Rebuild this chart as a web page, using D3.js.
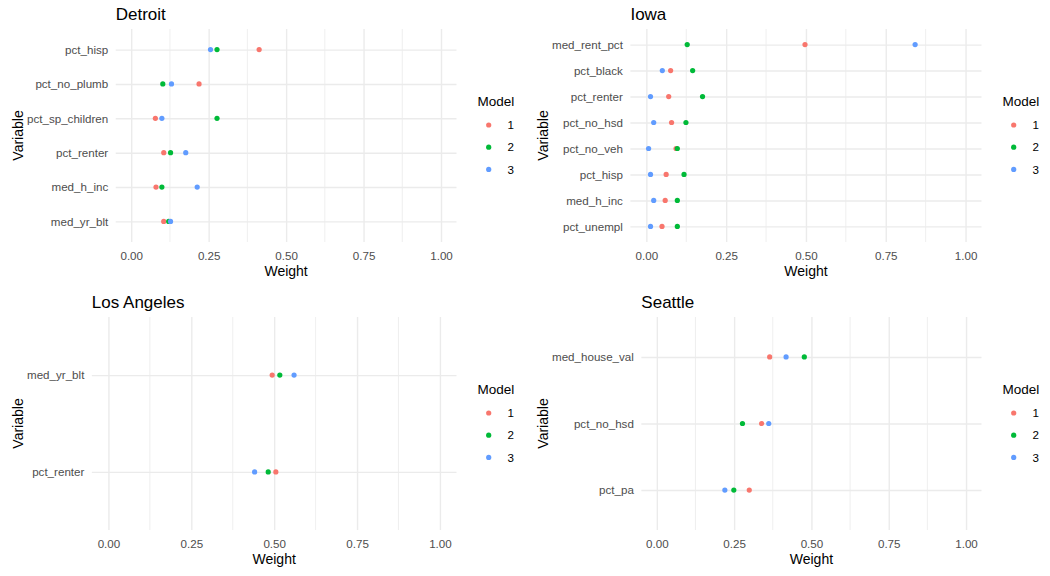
<!DOCTYPE html>
<html>
<head>
<meta charset="utf-8">
<script src="https://cdn.jsdelivr.net/npm/d3@7"></script>
<style>
  html, body { margin: 0; padding: 0; background: #fff; }
  svg { display: block; font-family: "Liberation Sans", Arial, sans-serif; }
</style>
</head>
<body>
<svg id="chart" width="1050" height="576"></svg>
<script>
// ---------- data ----------
const models = ["1", "2", "3"];
const modelColors = ["#F8766D", "#00BA38", "#619CFF"];
const xTicks = [0, 0.25, 0.5, 0.75, 1];
const xMinorTicks = [0.125, 0.375, 0.625, 0.875];

// categories listed top to bottom
const detroitVars = ["pct_hisp", "pct_no_plumb", "pct_sp_children", "pct_renter", "med_h_inc", "med_yr_blt"];
const detroitM1 = [0.413, 0.219, 0.078, 0.105, 0.080, 0.105];
const detroitM2 = [0.277, 0.102, 0.277, 0.127, 0.099, 0.121];
const detroitM3 = [0.256, 0.130, 0.099, 0.176, 0.213, 0.127];

const iowaVars = ["med_rent_pct", "pct_black", "pct_renter", "pct_no_hsd", "pct_no_veh", "pct_hisp", "med_h_inc", "pct_unempl"];
const iowaM1 = [0.497, 0.076, 0.070, 0.079, 0.093, 0.062, 0.059, 0.049];
const iowaM2 = [0.128, 0.145, 0.176, 0.124, 0.097, 0.118, 0.097, 0.097];
const iowaM3 = [0.842, 0.050, 0.013, 0.023, 0.007, 0.013, 0.023, 0.013];

const laVars = ["med_yr_blt", "pct_renter"];
const laM1 = [0.494, 0.505];
const laM2 = [0.517, 0.482];
const laM3 = [0.560, 0.441];

const seattleVars = ["med_house_val", "pct_no_hsd", "pct_pa"];
const seattleM1 = [0.365, 0.339, 0.299];
const seattleM2 = [0.477, 0.277, 0.249];
const seattleM3 = [0.418, 0.362, 0.220];

const panels = [
  { title: "Detroit",     vars: detroitVars, vals: [detroitM1, detroitM2, detroitM3], col: 0, row: 0 },
  { title: "Iowa",        vars: iowaVars,    vals: [iowaM1, iowaM2, iowaM3],          col: 1, row: 0 },
  { title: "Los Angeles", vars: laVars,      vals: [laM1, laM2, laM3],                col: 0, row: 1 },
  { title: "Seattle",     vars: seattleVars, vals: [seattleM1, seattleM2, seattleM3], col: 1, row: 1 }
];

// ---------- layout ----------
const cellW = 525, cellH = 288;
const plotTop = 29, plotBottom = 242, plotRight = 456.5;
const labelLeft = 27;
const tickFont = 11.6, gridCol = "#EBEBEB", textGrey = "#4D4D4D";
const dotR = 2.6;

const svg = d3.select("#chart");

function measure(texts, size) {
  const t = svg.append("text").style("font-size", size + "px");
  let m = 0;
  texts.forEach(s => { t.text(s); m = Math.max(m, t.node().getComputedTextLength()); });
  t.remove();
  return m;
}

panels.forEach(p => {
  const cx = p.col * cellW, cy = p.row * cellH;
  const g = svg.append("g").attr("transform", `translate(${cx},${cy})`);
  const maxW = measure(p.vars, tickFont);
  const left = labelLeft + maxW + 7.5;
  const W = plotRight - left, H = plotBottom - plotTop;

  const x = d3.scaleLinear().domain([-0.05, 1.05]).range([left, plotRight]);
  const y = d3.scalePoint().domain(p.vars).range([plotTop, plotBottom]).padding(0.6);

  // minor grid
  g.append("g").selectAll("line").data(xMinorTicks).join("line")
    .attr("x1", d => x(d)).attr("x2", d => x(d))
    .attr("y1", plotTop).attr("y2", plotBottom)
    .attr("stroke", gridCol).attr("stroke-width", 0.8);

  // x axis with major grid
  const xa = g.append("g").attr("transform", `translate(0,${plotBottom})`)
    .call(d3.axisBottom(x).tickValues(xTicks).tickFormat(d3.format(".2f"))
      .tickSize(-H).tickPadding(9.6));
  xa.select(".domain").remove();
  xa.selectAll(".tick line").attr("stroke", gridCol).attr("stroke-width", 1.4);
  xa.selectAll(".tick text").attr("fill", textGrey).style("font-size", tickFont + "px")
    .style("font-family", "\"Liberation Sans\", Arial, sans-serif");

  // y axis with major grid
  const ya = g.append("g").attr("transform", `translate(${left},0)`)
    .call(d3.axisLeft(y).tickSize(-W).tickPadding(7.5));
  ya.select(".domain").remove();
  ya.selectAll(".tick line").attr("stroke", gridCol).attr("stroke-width", 1.4);
  ya.selectAll(".tick text").attr("fill", textGrey).style("font-size", tickFont + "px")
    .style("font-family", "\"Liberation Sans\", Arial, sans-serif");

  // points
  p.vals.forEach((arr, mi) => {
    g.append("g").selectAll("circle").data(arr).join("circle")
      .attr("cx", d => x(d)).attr("cy", (d, i) => y(p.vars[i]))
      .attr("r", dotR).attr("fill", modelColors[mi]);
  });

  // title
  g.append("text").attr("x", left).attr("y", 19.5)
    .style("font-size", "17px").attr("fill", "#000").text(p.title);

  // axis titles
  g.append("text").attr("x", (left + plotRight) / 2).attr("y", 276)
    .attr("text-anchor", "middle").style("font-size", "14px").attr("fill", "#000").text("Weight");
  g.append("text").attr("transform", `translate(22.5,${(plotTop + plotBottom) / 2}) rotate(-90)`)
    .attr("text-anchor", "middle").style("font-size", "14px").attr("fill", "#000").text("Variable");

  // legend
  const lg = g.append("g");
  lg.append("text").attr("x", 477.5).attr("y", 106).style("font-size", "13.5px").attr("fill", "#000").text("Model");
  models.forEach((m, i) => {
    const yy = 125 + i * 22.2;
    lg.append("circle").attr("cx", 488.7).attr("cy", yy).attr("r", dotR).attr("fill", modelColors[i]);
    lg.append("text").attr("x", 507.5).attr("y", yy).attr("dy", "0.36em")
      .style("font-size", tickFont + "px").attr("fill", "#000").text(m);
  });
});
</script>
</body>
</html>
